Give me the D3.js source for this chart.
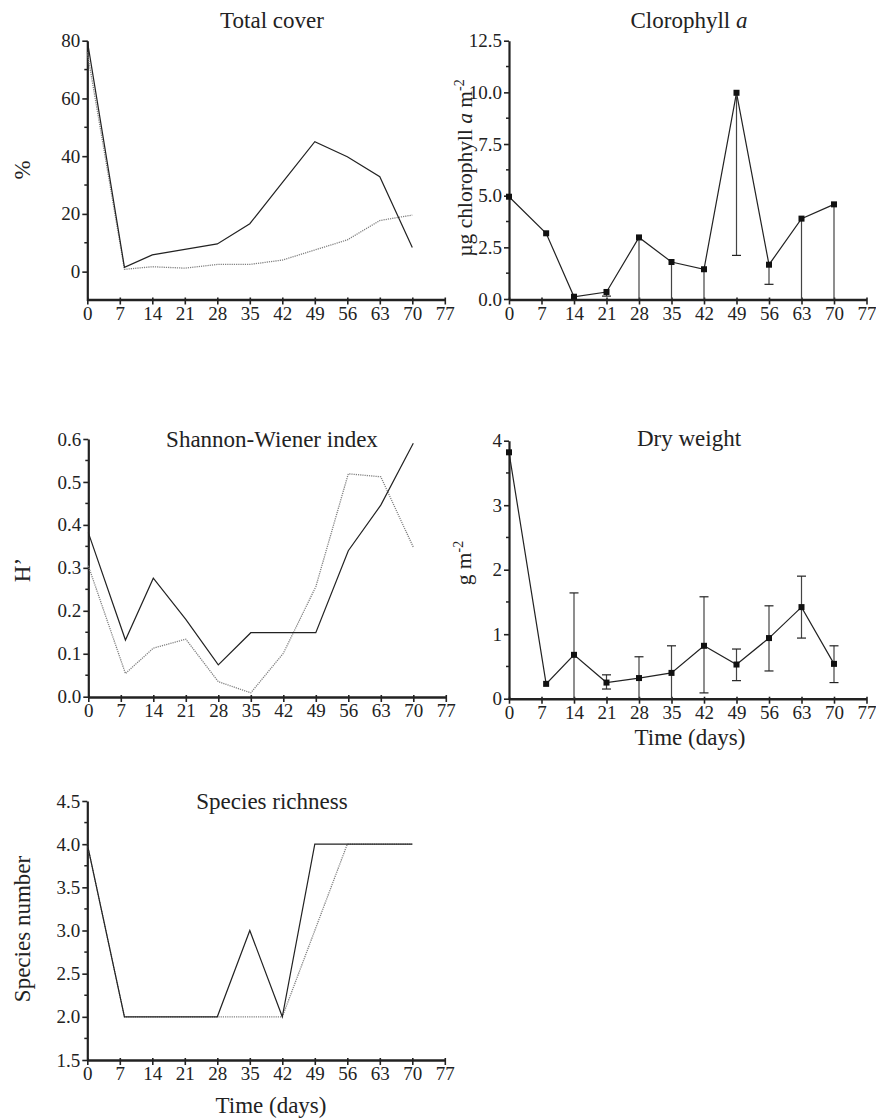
<!DOCTYPE html>
<html>
<head>
<meta charset="utf-8">
<script src="https://cdn.jsdelivr.net/npm/d3@7"></script>
<style>
  html, body { margin: 0; padding: 0; background: #fff; }
  svg { display: block; }
  text { font-family: "Liberation Serif", "Times New Roman", serif; fill: #222; }
</style>
</head>
<body>
<svg id="chart" width="876" height="1120"></svg>
<script>
// ---------- DATA ----------
const days = [0, 8, 14, 21, 28, 35, 42, 49, 56, 63, 70];
const xTicks = [0, 7, 14, 21, 28, 35, 42, 49, 56, 63, 70, 77];

// Total cover (%)
const coverSolid  = [80, 1.5, 5.8, 7.7, 9.6, 16.6, 30.8, 45.0, 39.8, 32.9, 8.4];
const coverDotted = [76, 0.8, 1.7, 1.2, 2.5, 2.5, 4.0, 7.5, 11.0, 17.7, 19.6];
const coverTicks  = [0, 20, 40, 60, 80];

// Chlorophyll a (µg m-2), with lower error limits
const chlValue = [4.95, 3.18, 0.11, 0.34, 2.98, 1.79, 1.44, 9.98, 1.66, 3.89, 4.58];
const chlLow   = [null, null, 0.0, 0.14, 0.0, 0.0, 0.0, 2.11, 0.71, 0.0, 0.0];
const chlTicks = [0.0, 2.5, 5.0, 7.5, 10.0, 12.5];

// Shannon-Wiener index H'
const shannonSolid  = [0.382, 0.132, 0.276, 0.18, 0.074, 0.149, 0.149, 0.149, 0.340, 0.446, 0.590];
const shannonDotted = [0.305, 0.054, 0.113, 0.134, 0.035, 0.009, 0.101, 0.256, 0.519, 0.512, 0.348];
const shannonTicks  = [0.0, 0.1, 0.2, 0.3, 0.4, 0.5, 0.6];

// Dry weight (g m-2), with error limits
const dryValue = [3.82, 0.23, 0.68, 0.25, 0.32, 0.40, 0.82, 0.53, 0.94, 1.42, 0.54];
const dryHigh  = [null, null, 1.64, 0.37, 0.65, 0.82, 1.58, 0.77, 1.44, 1.90, 0.82];
const dryLow   = [null, null, 0.0, 0.15, 0.0, 0.0, 0.09, 0.28, 0.43, 0.94, 0.25];
const dryTicks = [0, 1, 2, 3, 4];

// Species richness
const richSolid  = [4, 2, 2, 2, 2, 3, 2, 4, 4, 4, 4];
const richDotted = [4, 2, 2, 2, 2, 2, 2, 3, 4, 4, 4];
const richTicks  = [1.5, 2.0, 2.5, 3.0, 3.5, 4.0, 4.5];

// ---------- DRAWING ----------
const svg = d3.select("#chart");
const INK = "#222";

function panel(cfg) {
  const g = svg.append("g");
  const x = d3.scaleLinear().domain([0, 77]).range([cfg.x0, cfg.x0 + 357.5]);
  const y = d3.scaleLinear().domain(cfg.yDomain).range([cfg.yBottom, cfg.yTop]);

  // minor y ticks
  const minor = [];
  for (let i = 0; i < cfg.yTicks.length - 1; i++) minor.push((cfg.yTicks[i] + cfg.yTicks[i + 1]) / 2);
  g.append("g").selectAll("line").data(minor).join("line")
    .attr("x1", cfg.x0 - 3).attr("x2", cfg.x0)
    .attr("y1", d => y(d)).attr("y2", d => y(d))
    .attr("stroke", INK).attr("stroke-width", 1.5);

  // y axis
  const yAxis = d3.axisLeft(y).tickValues(cfg.yTicks).tickFormat(cfg.yFormat)
    .tickSizeOuter(0).tickSizeInner(5).tickPadding(2);
  const ya = g.append("g").attr("transform", `translate(${cfg.x0},0)`).call(yAxis);
  ya.select(".domain").attr("stroke", INK).attr("stroke-width", 2.2);
  ya.selectAll(".tick line").attr("stroke", INK).attr("stroke-width", 1.6);
  ya.selectAll(".tick text").style("font-size", "19px").attr("fill", INK)
    .style("font-family", "'Liberation Serif', serif");

  // x axis
  const xAxis = d3.axisBottom(x).tickValues(xTicks).tickFormat(d3.format("d"))
    .tickSizeOuter(0).tickSizeInner(5).tickPadding(2);
  const xa = g.append("g").attr("transform", `translate(0,${cfg.xAxisY})`).call(xAxis);
  xa.select(".domain").attr("stroke", INK).attr("stroke-width", 2.4);
  xa.selectAll(".tick line").attr("stroke", INK).attr("stroke-width", 1.6).attr("y1", -2);
  xa.selectAll(".tick text").style("font-size", "19px").attr("fill", INK)
    .style("font-family", "'Liberation Serif', serif");

  // title
  const t = g.append("text").attr("x", cfg.titleX).attr("y", cfg.titleY)
    .attr("text-anchor", "middle").style("font-size", "23px");
  t.append("tspan").text(cfg.title);
  if (cfg.titleItalic) t.append("tspan").style("font-style", "italic").text(cfg.titleItalic);

  // y label
  if (cfg.yLabel) {
    const yl = g.append("text")
      .attr("transform", `translate(${cfg.yLabelX},${cfg.yLabelY}) rotate(-90)`)
      .attr("text-anchor", "middle").style("font-size", cfg.yLabelSize || "23px");
    cfg.yLabel.forEach(p => {
      const s = yl.append("tspan").text(p.t);
      if (p.i) s.style("font-style", "italic");
      if (p.sup) s.attr("dy", -8).style("font-size", "14px");
    });
  }
  // x label
  if (cfg.xLabel) {
    g.append("text").attr("x", cfg.xLabelX).attr("y", cfg.xLabelY)
      .attr("text-anchor", "middle").style("font-size", "23px").text(cfg.xLabel);
  }

  const line = d3.line().x(d => x(d[0])).y(d => y(d[1]));
  const plot = g.append("g");

  (cfg.dotted || []).forEach(vals => {
    plot.append("path").datum(days.map((d, i) => [d, vals[i]]))
      .attr("d", line).attr("fill", "none")
      .attr("stroke", "#808080").attr("stroke-width", 1.3)
      .attr("stroke-dasharray", "1.2,1");
  });
  (cfg.solid || []).forEach(vals => {
    plot.append("path").datum(days.map((d, i) => [d, vals[i]]))
      .attr("d", line).attr("fill", "none")
      .attr("stroke", INK).attr("stroke-width", 1.2);
  });

  // error bars
  if (cfg.points) {
    const eb = g.append("g");
    days.forEach((d, i) => {
      const v = cfg.points[i];
      const lo = cfg.low ? cfg.low[i] : null;
      const hi = cfg.high ? cfg.high[i] : null;
      if (lo === null && hi === null) return;
      const top = hi !== null ? hi : v;
      const bot = lo !== null ? lo : v;
      eb.append("line").attr("x1", x(d)).attr("x2", x(d))
        .attr("y1", y(top)).attr("y2", y(bot))
        .attr("stroke", "#444").attr("stroke-width", 1.2);
      if (hi !== null) eb.append("line").attr("x1", x(d) - 4.5).attr("x2", x(d) + 4.5)
        .attr("y1", y(hi)).attr("y2", y(hi)).attr("stroke", INK).attr("stroke-width", 1.2);
      if (lo !== null && lo > cfg.yDomain[0] + 0.01) eb.append("line").attr("x1", x(d) - 4.5).attr("x2", x(d) + 4.5)
        .attr("y1", y(lo)).attr("y2", y(lo)).attr("stroke", INK).attr("stroke-width", 1.2);
    });
    g.append("g").selectAll("rect").data(days.map((d, i) => [d, cfg.points[i]])).join("rect")
      .attr("x", d => x(d[0]) - 3).attr("y", d => y(d[1]) - 3)
      .attr("width", 6).attr("height", 6).attr("fill", "#111");
  }
}

// Total cover
panel({
  x0: 87.3, yTop: 40.7, yBottom: 300.5, yDomain: [-10, 80], xAxisY: 299.5,
  yTicks: coverTicks, yFormat: d3.format("d"),
  title: "Total cover", titleX: 272, titleY: 28,
  yLabel: [{ t: "%" }], yLabelX: 30, yLabelY: 170,
  solid: [coverSolid], dotted: [coverDotted]
});

// Chlorophyll a
panel({
  x0: 509, yTop: 40.7, yBottom: 299, yDomain: [0, 12.5], xAxisY: 299.5,
  yTicks: chlTicks, yFormat: d3.format(".1f"),
  title: "Clorophyll ", titleItalic: "a", titleX: 689, titleY: 28,
  yLabel: [{ t: "µg chlorophyll " }, { t: "a", i: true }, { t: " m" }, { t: "-2", sup: true }],
  yLabelX: 472, yLabelY: 168, yLabelSize: "21.5px",
  solid: [chlValue], points: chlValue, low: chlLow
});

// Shannon-Wiener
panel({
  x0: 88.3, yTop: 439, yBottom: 696.7, yDomain: [0, 0.6], xAxisY: 697,
  yTicks: shannonTicks, yFormat: d3.format(".1f"),
  title: "Shannon-Wiener index", titleX: 272, titleY: 447,
  yLabel: [{ t: "H’" }], yLabelX: 30, yLabelY: 570,
  solid: [shannonSolid], dotted: [shannonDotted]
});

// Dry weight
panel({
  x0: 509, yTop: 440.7, yBottom: 698.7, yDomain: [0, 4], xAxisY: 698.7,
  yTicks: dryTicks, yFormat: d3.format("d"),
  title: "Dry weight", titleX: 689, titleY: 446,
  yLabel: [{ t: "g m" }, { t: "-2", sup: true }], yLabelX: 471, yLabelY: 563, yLabelSize: "21.5px",
  xLabel: "Time (days)", xLabelX: 690, xLabelY: 745,
  solid: [dryValue], points: dryValue, low: dryLow, high: dryHigh
});

// Species richness
panel({
  x0: 87.3, yTop: 801, yBottom: 1060, yDomain: [1.5, 4.5], xAxisY: 1060,
  yTicks: richTicks, yFormat: d3.format(".1f"),
  title: "Species richness", titleX: 272, titleY: 809,
  yLabel: [{ t: "Species number" }], yLabelX: 30, yLabelY: 929,
  xLabel: "Time (days)", xLabelX: 271, xLabelY: 1113,
  solid: [richSolid], dotted: [richDotted]
});
</script>
</body>
</html>
